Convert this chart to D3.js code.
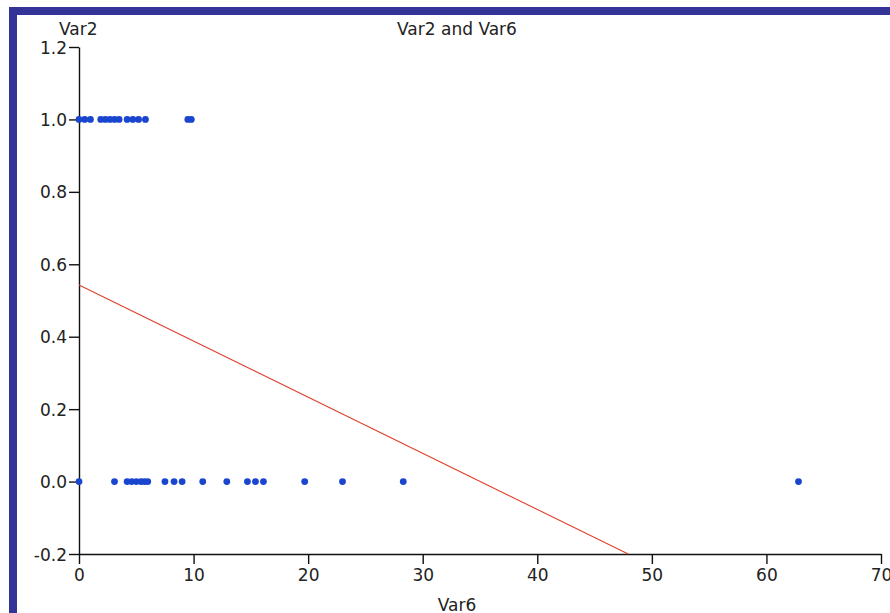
<!DOCTYPE html>
<html>
<head>
<meta charset="utf-8">
<script src="https://cdn.jsdelivr.net/npm/d3@7"></script>
<style>
  body { margin:0; background:#fff; }
  text { font-family: "DejaVu Sans", Verdana, sans-serif; fill:#222; }
</style>
</head>
<body>
<div id="chart"></div>
<script>
// Var6 values for rows where Var2 = 1 and Var2 = 0
var var6WhenOne  = [0, 0.5, 1.0, 1.9, 2.3, 2.7, 3.1, 3.5, 4.2, 4.7, 5.2, 5.8, 9.5, 9.8];
var var6WhenZero = [0, 3.1, 4.2, 4.6, 5.0, 5.4, 5.7, 6.0, 7.5, 8.3, 9.0, 10.8, 12.9,
                    14.7, 15.4, 16.1, 19.7, 23.0, 28.3, 62.8];
// fitted line Var2 = a + b * Var6
var fitIntercept = 0.543;
var fitSlope = -0.0155;

var xTicks = [0, 10, 20, 30, 40, 50, 60, 70];
var yTicks = [-0.2, 0.0, 0.2, 0.4, 0.6, 0.8, 1.0, 1.2];

var W = 890, H = 613;
var margin = {top:47, right:9, bottom:59, left:79};

var svg = d3.select("#chart").append("svg")
    .attr("width", W).attr("height", H);

// frame bands
svg.append("rect").attr("x",9).attr("y",7).attr("width",W-9).attr("height",8).attr("fill","#343398");
svg.append("rect").attr("x",9).attr("y",7).attr("width",8).attr("height",H-7).attr("fill","#343398");

var x = d3.scaleLinear().domain([0,70]).range([margin.left, W-margin.right]);
var y = d3.scaleLinear().domain([-0.2,1.2]).range([H-margin.bottom, margin.top]);

var xAxis = d3.axisBottom(x).tickValues(xTicks).tickSize(10).tickSizeOuter(0)
    .tickFormat(d3.format("d"));
var gx = svg.append("g").attr("transform","translate(0,"+y(-0.2)+")").call(xAxis);
gx.selectAll("text").style("font-size","17px").attr("y",27).attr("dy",0).attr("fill","#222");

var fmtY = function(d){ return d3.format(".1f")(d).replace("\u2212","-"); };
var yAxis = d3.axisLeft(y).tickValues(yTicks).tickSize(10).tickSizeOuter(0)
    .tickFormat(fmtY);
var gy = svg.append("g").attr("transform","translate("+x(0)+",0)").call(yAxis);
gy.selectAll("text").style("font-size","17px").attr("x",-12).attr("dy","0.36em").attr("fill","#222");

svg.selectAll(".domain, .tick line").attr("stroke","#111").attr("stroke-width",1.4);

// titles
svg.append("text").attr("x",457).attr("y",35).attr("text-anchor","middle")
    .style("font-size","17px").text("Var2 and Var6");
svg.append("text").attr("x",59).attr("y",35)
    .style("font-size","17px").text("Var2");
svg.append("text").attr("x",457).attr("y",611).attr("text-anchor","middle")
    .style("font-size","17px").text("Var6");

// regression line, clipped at y = -0.2
var xEnd = (-0.2 - fitIntercept) / fitSlope;
svg.append("line")
    .attr("x1", x(0)).attr("y1", y(fitIntercept))
    .attr("x2", x(xEnd)).attr("y2", y(-0.2))
    .attr("stroke","#e0402a").attr("stroke-width",1.1);

var points = var6WhenOne.map(function(v){ return {x:v, y:1}; })
    .concat(var6WhenZero.map(function(v){ return {x:v, y:0}; }));

svg.append("g").selectAll("circle").data(points).enter().append("circle")
    .attr("cx", function(d){ return x(d.x); })
    .attr("cy", function(d){ return y(d.y); })
    .attr("r", 3.4)
    .attr("fill","#1a45cf");
</script>
</body>
</html>
